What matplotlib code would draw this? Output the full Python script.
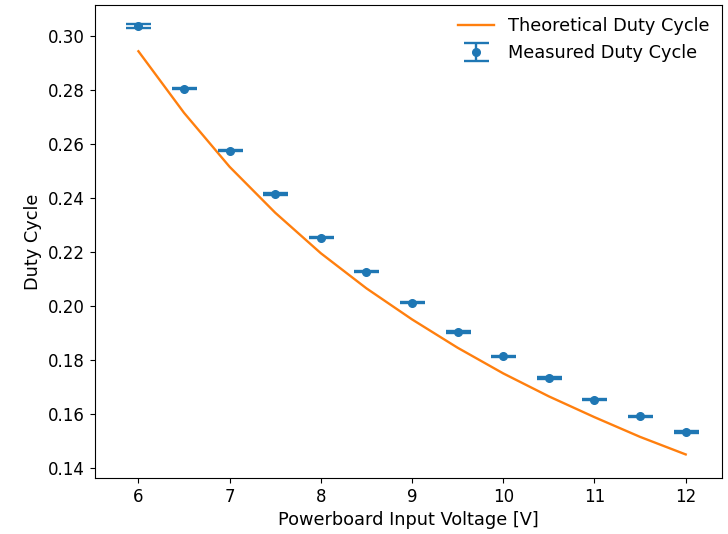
import numpy as np
import matplotlib
matplotlib.use('Agg')
import matplotlib.pyplot as plt

# 01 Data
InputVoltage = [6.0, 6.5, 7.0, 7.5, 8.0, 8.5, 9.0, 9.5, 10.0, 10.5, 11.0, 11.5, 12.0]
TheoreticalDuty = [0.2943, 0.2715, 0.2515, 0.2345, 0.2195, 0.2065, 0.1950,
                   0.1845, 0.1750, 0.1665, 0.1588, 0.1515, 0.1450]
MeasuredDuty = [0.3037, 0.2805, 0.2575, 0.2414, 0.2253, 0.2127, 0.2012,
                0.1903, 0.1813, 0.1733, 0.1653, 0.1591, 0.1534]
MeasuredError = [0.0008, 0.0003, 0.0003, 0.0003, 0.0003, 0.0003, 0.0003,
                 0.0003, 0.0003, 0.0003, 0.0003, 0.0003, 0.0003]

# 02 Plot
Figure = plt.figure(figsize=(7.28, 5.34), dpi=100)
Axes = Figure.add_axes([0.130, 0.105, 0.862, 0.886])
Axes.plot(InputVoltage, TheoreticalDuty, color='#ff7f0e', linewidth=1.7, label='Theoretical Duty Cycle')
Axes.errorbar(InputVoltage, MeasuredDuty, yerr=MeasuredError, fmt='o', markersize=5.5,
              color='#1f77b4', capsize=9, elinewidth=1.7, capthick=1.7, label='Measured Duty Cycle')
Axes.set_xlim([5.52, 12.4])
Axes.set_ylim([0.1363, 0.3115])
Axes.set_xticks([6, 7, 8, 9, 10, 11, 12])
Axes.set_yticks(np.arange(0.14, 0.301, 0.02))
Axes.tick_params(labelsize=12)
Axes.set_xlabel('Powerboard Input Voltage [V]', fontsize=12.8)
Axes.set_ylabel('Duty Cycle', fontsize=12.8)
Axes.legend(loc='upper right', frameon=False, fontsize=12.8, borderaxespad=0.3)
plt.savefig('out.png', dpi=100)
plt.close(Figure)
